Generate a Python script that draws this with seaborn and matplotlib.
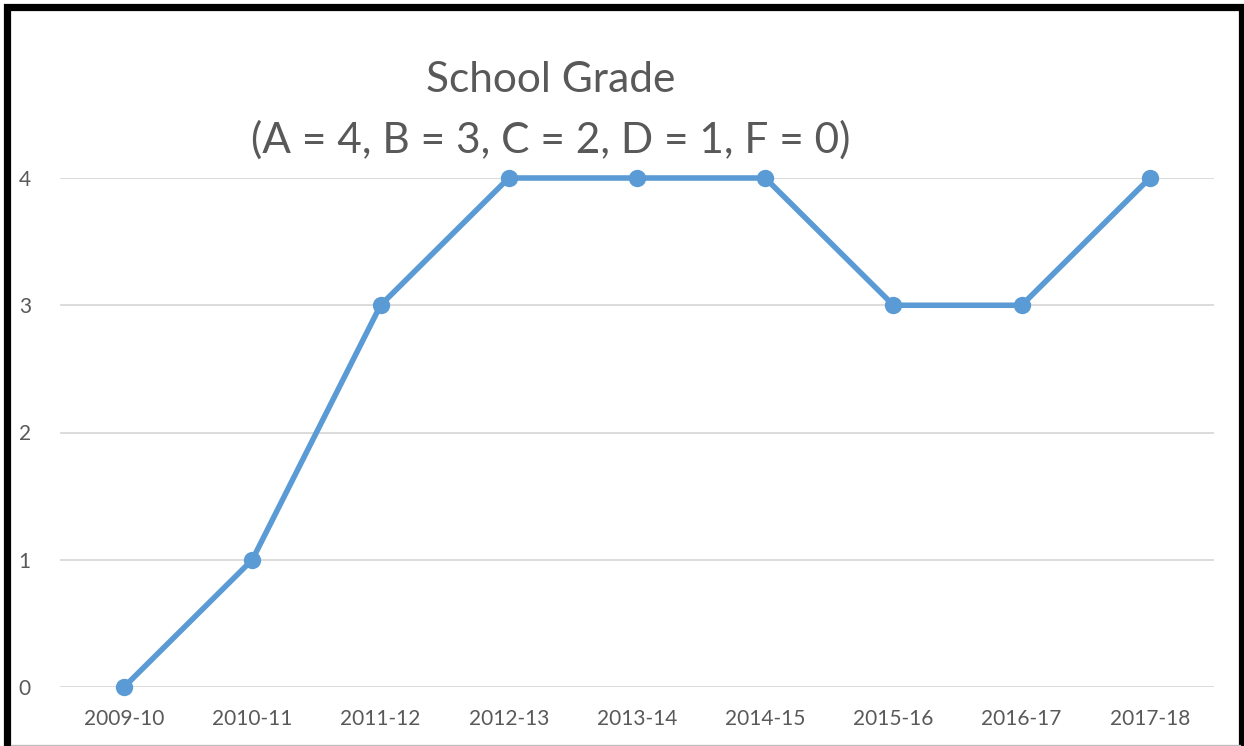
import pandas as pd
import matplotlib.pyplot as plt
import seaborn as sns
from matplotlib.patches import Rectangle
from matplotlib.lines import Line2D

years = ["2009-10", "2010-11", "2011-12", "2012-13", "2013-14",
         "2014-15", "2015-16", "2016-17", "2017-18"]
grades = [0, 1, 3, 4, 4, 4, 3, 3, 4]
y_ticks = [0, 1, 2, 3, 4]

df = pd.DataFrame({"year": years, "grade": grades})

sns.set_style("white")
plt.rcParams['font.family'] = ['Lato', 'DejaVu Sans']

fig = plt.figure(figsize=(12.44, 7.46), dpi=100)
ax = fig.add_axes([60 / 1244, 1 - 687 / 746, 1154 / 1244, (687 - 178) / 746])

sns.lineplot(data=df, x="year", y="grade", ax=ax, color="#5B9BD5",
             linewidth=4, marker="o", markersize=12.5, markeredgewidth=0,
             clip_on=False, sort=False)

ax.set_xlim(-0.5, len(years) - 0.5)
ax.set_ylim(0, 4)
ax.set_yticks(y_ticks)
ax.yaxis.grid(True, color="#D9D9D9", linewidth=1.3)
ax.set_axisbelow(True)
for s in ax.spines.values():
    s.set_visible(False)
ax.tick_params(axis="both", length=0, labelsize=15, labelcolor="#595959")
ax.tick_params(axis="x", pad=16)
ax.tick_params(axis="y", pad=21)
ax.set_xlabel("")
ax.set_ylabel("")

fig.text(551 / 1244, 1 - 80 / 746, "School Grade", ha="center", va="center",
         fontsize=30.5, color="#595959")
fig.text(551 / 1244, 1 - 140 / 746, "(A = 4, B = 3, C = 2, D = 1, F = 0)",
         ha="center", va="center", fontsize=30.5, color="#595959")

# outer frame
fig.patches.append(Rectangle((7.5 / 1244, -0.05), (1242 - 7.5) / 1244, 1.05 - 7 / 746,
                             transform=fig.transFigure, fill=False,
                             edgecolor="black", linewidth=5.2))
fig.lines.append(Line2D([11 / 1244, 1240 / 1244], [1.5 / 746, 1.5 / 746],
                        transform=fig.transFigure, color="#BFBFBF", linewidth=1))

fig.savefig("out.png", dpi=100)
